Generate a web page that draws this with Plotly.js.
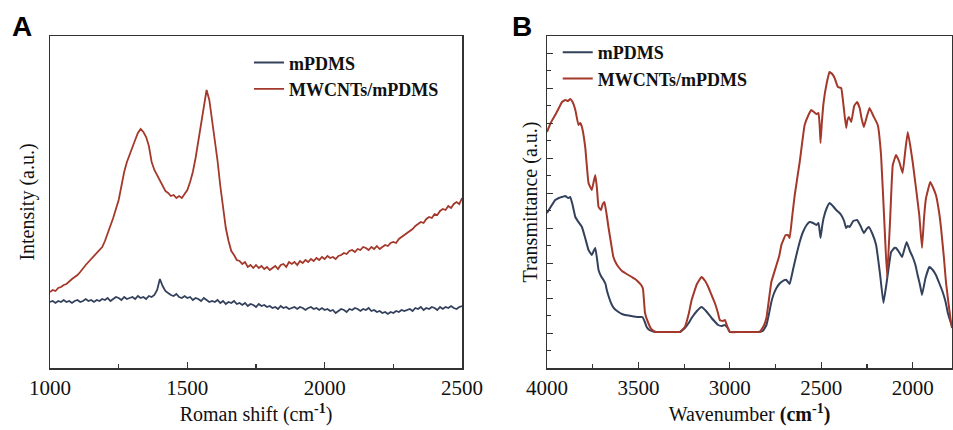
<!DOCTYPE html>
<html><head><meta charset="utf-8">
<script src="https://cdn.plot.ly/plotly-3.0.1.min.js"></script>
<style>html,body{margin:0;padding:0;background:#fff}#chart{width:953px;height:430px}</style>
</head><body><div id="chart"></div>
<script>
// Panel A: Raman spectra (x = Raman shift, cm-1; y = intensity, a.u.)
const ramanShift = [
 1000,1010,1020,1030,1040,1050,1060,1070,1080,1090,
 1100,1110,1120,1130,1140,1150,1160,1170,1180,1190,
 1200,1210,1220,1230,1240,1250,1260,1270,1280,1290,
 1300,1310,1320,1330,1340,1350,1360,1370,1380,1390,
 1400,1410,1420,1430,1440,1450,1460,1470,1480,1490,
 1500,1510,1520,1530,1540,1550,1560,1570,1580,1590,
 1600,1610,1620,1630,1640,1650,1660,1670,1680,1690,
 1700,1710,1720,1730,1740,1750,1760,1770,1780,1790,
 1800,1810,1820,1830,1840,1850,1860,1870,1880,1890,
 1900,1910,1920,1930,1940,1950,1960,1970,1980,1990,
 2000,2010,2020,2030,2040,2050,2060,2070,2080,2090,
 2100,2110,2120,2130,2140,2150,2160,2170,2180,2190,
 2200,2210,2220,2230,2240,2250,2260,2270,2280,2290,
 2300,2310,2320,2330,2340,2350,2360,2370,2380,2390,
 2400,2410,2420,2430,2440,2450,2460,2470,2480,2490,
 2500];
const ramanMPDMS = [
 66,67,65,67,66,68,66,67,65,67,
 68,66,67,69,67,68,66,68,67,69,
 68,70,67,69,71,70,68,71,69,70,
 71,69,72,70,71,69,72,71,73,78,
 89,82,77,75,73,72,74,71,70,72,
 70,71,68,70,69,67,70,68,66,67,
 66,68,65,67,64,66,65,67,64,65,
 63,65,62,64,63,61,64,62,63,61,
 62,60,61,59,62,60,61,59,60,61,
 59,61,60,58,60,61,59,60,58,60,
 58,59,57,58,55,57,59,58,56,59,
 58,60,59,57,59,58,60,57,58,56,
 57,55,56,54,56,55,57,56,58,57,
 58,59,57,60,59,61,58,60,59,61,
 60,58,61,59,61,60,62,60,59,61,
 62];
const ramanMWCNT = [
 76,78,77,80,81,83,84,87,89,91,
 93,96,100,103,106,109,111,114,118,121,
 127,134,142,150,159,168,182,196,206,214,
 222,228,235,239,236,231,222,206,198,193,
 187,182,177,175,172,173,170,172,170,174,
 178,186,196,210,226,244,262,278,268,248,
 228,207,182,160,140,127,117,113,108,107,
 104,106,101,103,100,103,100,102,99,101,
 98,100,102,99,103,104,101,106,104,106,
 103,107,105,108,106,109,107,110,108,111,
 109,112,110,111,109,112,113,115,114,117,
 118,116,119,118,121,120,118,121,119,122,
 119,121,123,122,125,126,125,129,131,133,
 135,137,139,142,144,146,145,149,151,150,
 154,153,157,159,158,162,160,164,166,164,
 170];

// Panel B: FTIR spectra (x = wavenumber, cm-1; y = transmittance, a.u.)
const ftirMPDMSx = [4000,3980,3955,3935,3918,3900,3885,3873,3860,3845,3828,3809,3791,3773,3755,3745,3736,3727,3718,3705,3691,3680,3673,3660,3645,3630,3609,3590,3573,3540,3500,3478,3465,3455,3440,3427,3400,3350,3300,3273,3246,3225,3209,3180,3155,3130,3100,3080,3064,3045,3027,3012,3000,2950,2900,2850,2820,2800,2785,2773,2760,2745,2730,2718,2700,2691,2673,2655,2636,2618,2600,2580,2564,2545,2527,2515,2504,2495,2487,2470,2455,2437,2418,2400,2391,2375,2364,2355,2345,2325,2304,2285,2267,2252,2240,2220,2200,2178,2160,2142,2118,2100,2091,2075,2058,2045,2033,2015,2000,1985,1973,1960,1949,1930,1909,1890,1873,1855,1836,1820,1809,1791,1785];
const ftirMPDMSy = [155,161,168,170,171,172,170,171,163,151,146,141,130,118,113,117,120,110,98,92,88,84,78,70,63,59,56,54,53,52,51,51,46,41,38,37,36,36,36,36,40,45,50,57,61,57,50,46,43,42,43,40,36,36,36,36,37,43,55,66,74,80,84,86,88,88,84,98,113,126,136,143,146,145,143,145,130,142,150,160,165,162,158,155,153,147,140,142,141,147,148,142,135,139,141,134,123,93,65,86,116,120,120,116,111,119,126,117,111,103,93,83,73,90,101,98,93,85,76,66,56,45,42];
const ftirMWCNTx = [4000,3980,3955,3935,3918,3900,3885,3873,3860,3845,3828,3818,3809,3791,3773,3755,3745,3736,3727,3718,3705,3695,3686,3675,3664,3650,3637,3620,3609,3590,3573,3555,3536,3518,3500,3485,3475,3464,3446,3430,3409,3380,3340,3300,3273,3246,3225,3209,3180,3155,3135,3118,3100,3082,3065,3055,3040,3027,3015,3000,2950,2900,2860,2836,2815,2800,2785,2773,2745,2730,2718,2695,2683,2673,2660,2645,2618,2591,2570,2555,2540,2527,2515,2508,2504,2497,2487,2470,2455,2440,2427,2409,2391,2378,2364,2357,2349,2336,2320,2304,2290,2280,2267,2250,2236,2215,2191,2173,2155,2140,2124,2109,2091,2073,2055,2040,2027,2013,2000,1982,1964,1949,1938,1927,1904,1890,1873,1855,1845,1830,1818,1805,1794,1785];
const ftirMWCNTy = [236,245,253,260,266,268,267,269,266,258,243,245,241,221,185,178,186,193,180,161,158,164,166,155,141,125,111,104,101,97,95,93,91,89,86,83,79,55,45,39,36,36,36,36,36,41,54,68,84,91,87,81,73,65,55,48,47,48,42,36,36,36,36,36,42,50,70,86,103,112,123,133,133,130,150,173,206,243,253,258,256,254,255,240,225,245,266,285,296,294,290,281,280,262,240,248,251,246,262,266,260,250,241,252,260,252,243,213,146,91,146,203,213,206,195,218,236,222,206,180,153,120,150,170,186,181,173,155,140,112,86,66,50,40];

const seriesNames = ['mPDMS', 'MWCNTs/mPDMS'];
const xTitleA = 'Roman shift (cm<sup><b>-1</b></sup>)';
const yTitleA = 'Intensity (a.u.)';
const xTitleB = 'Wavenumber <b>(cm<sup>-1</sup>)</b>';
const yTitleB = 'Transmittance (a.u.)';

const BLUE = '#33415c', RED = '#a3382b';
const SERIF = 'Liberation Serif';
const AX = '#333333';

const traces = [
  {x: ramanShift, y: ramanMPDMS, name: seriesNames[0], mode: 'lines', line: {color: BLUE, width: 1.8}, xaxis: 'x', yaxis: 'y', legend: 'legend'},
  {x: ramanShift, y: ramanMWCNT, name: seriesNames[1], mode: 'lines', line: {color: RED, width: 1.8}, xaxis: 'x', yaxis: 'y', legend: 'legend'},
  {x: ftirMPDMSx, y: ftirMPDMSy, name: seriesNames[0], mode: 'lines', line: {color: BLUE, width: 2, shape: 'spline', smoothing: 0.3}, xaxis: 'x2', yaxis: 'y2', legend: 'legend2'},
  {x: ftirMWCNTx, y: ftirMWCNTy, name: seriesNames[1], mode: 'lines', line: {color: RED, width: 2, shape: 'spline', smoothing: 0.3}, xaxis: 'x2', yaxis: 'y2', legend: 'legend2'}
];

const axBase = {showline: true, mirror: true, linecolor: AX, linewidth: 1.5, showgrid: false, zeroline: false,
  tickfont: {family: SERIF, size: 21, color: '#111'}, tickcolor: AX, ticks: 'inside', ticklen: 6, tickwidth: 1.2};

const legendBase = {bgcolor: 'rgba(255,255,255,0)', borderwidth: 0,
  font: {family: SERIF, size: 18, color: '#111', weight: 700}, xanchor: 'left', yanchor: 'top', tracegroupgap: 0};

const layout = {
  width: 953, height: 430,
  font: {family: SERIF, size: 20, color: '#111'},
  margin: {l: 50, r: 1, t: 36, b: 62},
  paper_bgcolor: '#ffffff', plot_bgcolor: '#ffffff',
  showlegend: true,
  xaxis: Object.assign({}, axBase, {domain: [0, 0.4568], range: [1000, 2500], tick0: 1000, dtick: 500,
    minor: {dtick: 250, ticks: 'inside', ticklen: 4, tickcolor: AX},
    title: {text: xTitleA, font: {family: SERIF, size: 20, color: '#111'}, standoff: 8}, anchor: 'y'}),
  yaxis: Object.assign({}, axBase, {range: [0, 332], ticks: '', showticklabels: false, anchor: 'x',
    title: {text: yTitleA, font: {family: SERIF, size: 20, color: '#111'}, standoff: 8}}),
  xaxis2: Object.assign({}, axBase, {domain: [0.551, 1], range: [4000, 1785], tick0: 0, dtick: 500,
    minor: {dtick: 250, ticks: 'inside', ticklen: 4, tickcolor: AX},
    title: {text: xTitleB, font: {family: SERIF, size: 20, color: '#111'}, standoff: 8}, anchor: 'y2'}),
  yaxis2: Object.assign({}, axBase, {range: [0, 332], tick0: 34.7, dtick: 35, showticklabels: false, ticklen: 6, anchor: 'x2',
    minor: {tick0: 17.2, dtick: 35, ticks: 'inside', ticklen: 4, tickcolor: AX},
    title: {text: yTitleB, font: {family: SERIF, size: 20, color: '#111'}, standoff: 2}}),
  legend: Object.assign({}, legendBase, {x: 0.2206, y: 0.975}),
  legend2: Object.assign({}, legendBase, {x: 0.5629, y: 1.006}),
  annotations: [
    {text: '<b>A</b>', xref: 'paper', yref: 'paper', x: -0.031, y: 1.03, showarrow: false, xanchor: 'center', yanchor: 'middle',
     font: {family: 'Liberation Sans', size: 28, color: '#000'}},
    {text: '<b>B</b>', xref: 'paper', yref: 'paper', x: 0.5233, y: 1.03, showarrow: false, xanchor: 'center', yanchor: 'middle',
     font: {family: 'Liberation Sans', size: 28, color: '#000'}}
  ]
};

Plotly.newPlot('chart', traces, layout, {displayModeBar: false, staticPlot: true});
</script>
</body></html>
